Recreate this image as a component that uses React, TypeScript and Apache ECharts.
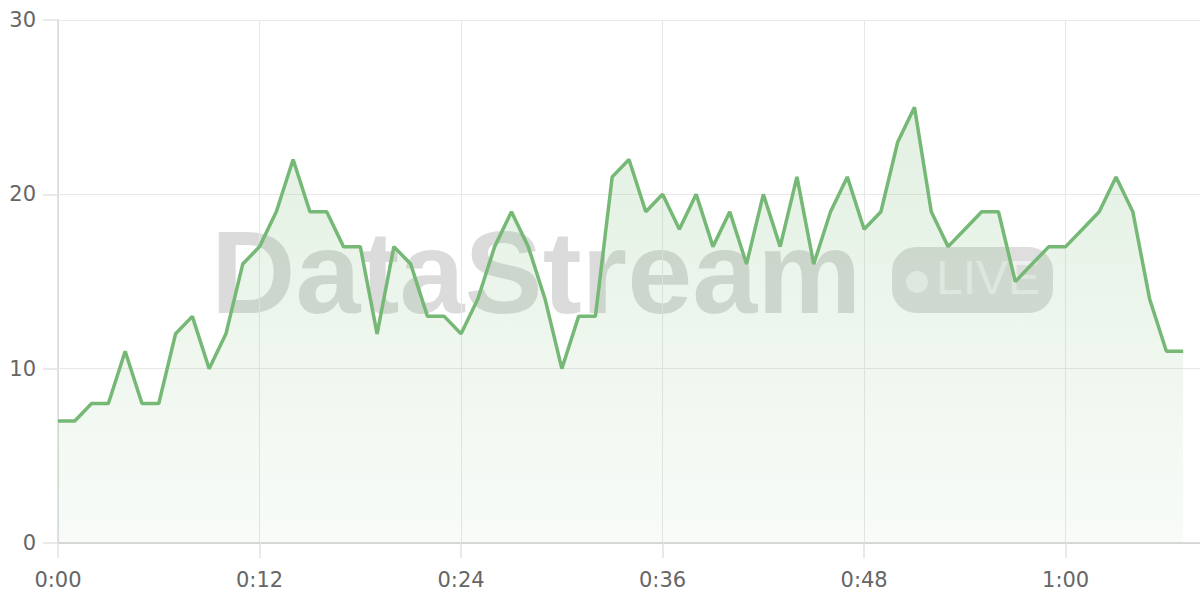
import React, { useEffect, useRef } from "react";
import * as echarts from "echarts";

const seconds: number[] = Array.from({ length: 68 }, (_, i) => i);
const values: number[] = [
  7, 7, 8, 8, 11, 8, 8, 12, 13, 10,
  12, 16, 17, 19, 22, 19, 19, 17, 17, 12,
  17, 16, 13, 13, 12, 14, 17, 19, 17, 14,
  10, 13, 13, 21, 22, 19, 20, 18, 20, 17,
  19, 16, 20, 17, 21, 16, 19, 21, 18, 19,
  23, 25, 19, 17, 18, 19, 19, 15, 16, 17,
  17, 18, 19, 21, 19, 14, 11, 11,
];
const yTicks = { min: 0, max: 30, interval: 10 };
const xTicks = { min: 0, max: 68, interval: 12 };
const watermarkTitle = "DataStream";
const watermarkBadge = "LIVE";

const fmt = (v: number) => `${Math.floor(v / 60)}:${String(Math.round(v) % 60).padStart(2, "0")}`;

export default function App() {
  const ref = useRef<HTMLDivElement>(null);
  useEffect(() => {
    if (!ref.current) return;
    const chart = echarts.init(ref.current, undefined, { renderer: "svg" });
    const labelFont = { fontFamily: "DejaVu Sans", fontSize: 21, color: "#666" };
    chart.setOption({
      animation: false,
      backgroundColor: "#fff",
      grid: { left: 58, right: 0, top: 20, bottom: 57 },
      graphic: [
        {
          type: "text",
          left: 211,
          top: 214,
          z: 0,
          silent: true,
          style: {
            text: watermarkTitle,
            font: "bold 117px 'Liberation Sans', Arial, sans-serif",
            fill: "rgba(0,0,0,0.14)",
          },
        },
        {
          type: "rect",
          z: 0,
          silent: true,
          shape: { x: 892, y: 247, width: 161, height: 66, r: 24 },
          style: { fill: "rgba(0,0,0,0.13)" },
        },
        {
          type: "circle",
          z: 0,
          silent: true,
          shape: { cx: 917, cy: 282, r: 11 },
          style: { fill: "rgba(255,255,255,0.55)" },
        },
        {
          type: "text",
          left: 936,
          top: 253,
          z: 0,
          silent: true,
          style: {
            text: watermarkBadge,
            font: "48px 'Liberation Sans', Arial, sans-serif",
            fill: "rgba(255,255,255,0.55)",
          },
        },
      ],
      xAxis: {
        type: "value",
        min: xTicks.min,
        max: xTicks.max,
        interval: xTicks.interval,
        axisLine: { show: true, lineStyle: { color: "#cfcfcf", width: 1.5 } },
        axisTick: { show: true, inside: false, length: 15, lineStyle: { color: "#e2e2e2", width: 1.5 } },
        splitLine: { show: true, lineStyle: { color: "#e8e8e8" } },
        axisLabel: { ...labelFont, margin: 26, formatter: fmt, showMaxLabel: false },
      },
      yAxis: {
        type: "value",
        min: yTicks.min,
        max: yTicks.max,
        interval: yTicks.interval,
        axisLine: { show: true, lineStyle: { color: "#d8d8d8", width: 1.5 } },
        axisTick: { show: true, inside: false, length: 15, lineStyle: { color: "#e2e2e2", width: 1.5 } },
        splitLine: { show: true, lineStyle: { color: "#e8e8e8" } },
        axisLabel: { ...labelFont, margin: 22 },
      },
      series: [
        {
          type: "line",
          data: seconds.map((s, i) => [s, values[i]]),
          symbol: "none",
          smooth: false,
          lineStyle: { color: "#76b876", width: 3.5 },
          itemStyle: { color: "#76b876" },
          areaStyle: {
            color: new echarts.graphic.LinearGradient(0, 0, 0, 1, [
              { offset: 0, color: "rgba(118,184,118,0.3)" },
              { offset: 1, color: "rgba(118,184,118,0.07)" },
            ]),
          },
        },
      ],
    });
    return () => chart.dispose();
  }, []);
  return (
    <div
      ref={ref}
      style={{ position: "fixed", left: 0, top: 0, width: 1200, height: 600 }}
    />
  );
}
